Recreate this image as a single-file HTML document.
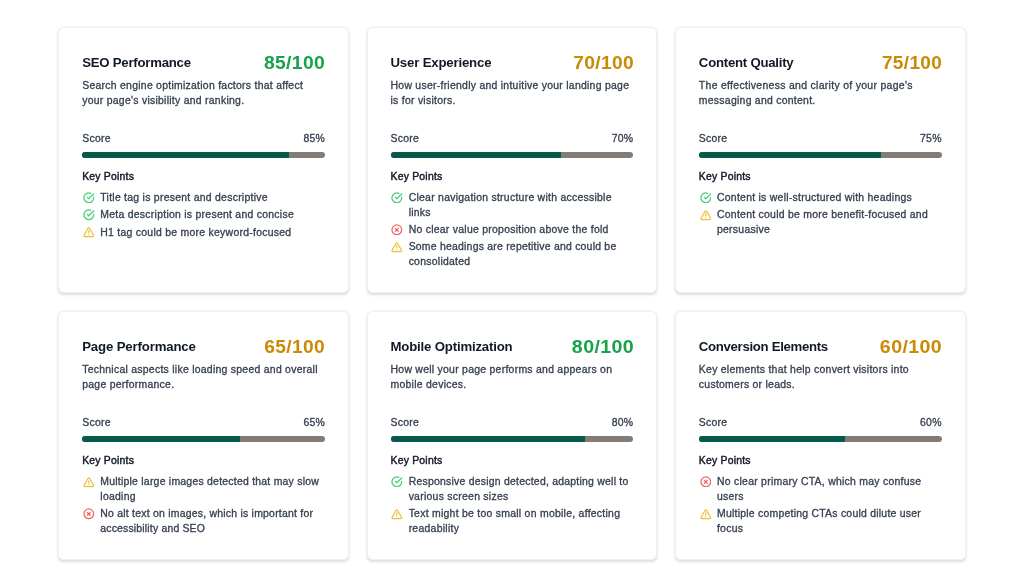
<!DOCTYPE html>
<html lang="en">
<head>
<meta charset="utf-8">
<title>Landing Page Analysis</title>
<style>
*{box-sizing:border-box;margin:0;padding:0}
html,body{width:1024px;height:576px;overflow:hidden;background:#fff}
body{font-family:"Liberation Sans",Arial,sans-serif;color:#374151;font-size:10.45px;line-height:14.55px;letter-spacing:.265px;white-space:nowrap;-webkit-text-stroke:.32px currentColor}
.grid{position:absolute;left:58.2px;top:26.5px;display:grid;grid-template-columns:290.9px 290.9px 290.9px;grid-template-rows:266.8px 249.4px;column-gap:17.45px;row-gap:17.45px}
.card{background:#fff;border:1px solid #f0f1f4;border-radius:5.8px;box-shadow:0 0 0 .7px rgba(229,231,235,.4),0 2.3px 3.4px -.73px rgba(0,0,0,.1),0 1.2px 2.4px -1.2px rgba(0,0,0,.09);padding:23px 23px 0 23px;overflow:hidden}
.hd{display:flex;justify-content:space-between;align-items:center;height:23.27px}
.tt{font-size:13.2px;line-height:20.36px;font-weight:700;color:#111827;letter-spacing:-.24px;position:relative;top:1px;-webkit-text-stroke:0}
.sc{font-size:18px;line-height:23.27px;font-weight:700;letter-spacing:.35px;margin-right:-.35px;position:relative;top:1px;-webkit-text-stroke:0;transform:scaleX(1.045);transform-origin:100% 50%}
.sc.g{color:#16a34a}
.sc.y{color:#ca8a04}
.ds{margin-top:5.13px;line-height:14.7px}
.lb{display:flex;justify-content:space-between;margin-top:23.67px}
.bar{margin-top:5.38px;height:5.82px;border-radius:3px;background:#837b76;overflow:hidden}
.fill{height:100%;background:#065a4b}
.kp{margin-top:10.83px;font-size:10.45px;font-weight:400;color:#111827;letter-spacing:.2px;-webkit-text-stroke:.42px currentColor;position:relative;top:1px}
.pts{list-style:none;margin-top:7.65px;margin-left:.8px}
.pts li{display:flex;align-items:flex-start;margin-top:2.65px;line-height:14.8px}
.pts li:first-child{margin-top:0}
.ic{flex:none;width:11.64px;height:11.64px;margin-top:.85px;margin-right:5.7px;fill:none;stroke-width:2.6;stroke-linecap:round;stroke-linejoin:round}
.ic{stroke-opacity:.82}
.ic.warn{transform:translateY(.5px)}
.ic.ok{stroke:#22c55e}
.ic.warn{stroke:#eab308}
.ic.bad{stroke:#ef4444}

</style>
</head>
<body>
<main class="grid">
<section class="card">
<div class="hd"><h3 class="tt">SEO Performance</h3><span class="sc g" style="transform:scaleX(1.0721)">85/100</span></div>
<p class="ds">Search engine optimization factors that affect<br>your page's visibility and ranking.</p>
<div class="lb"><span>Score</span><span>85%</span></div>
<div class="bar"><div class="fill" style="width:85%"></div></div>
<h4 class="kp">Key Points</h4>
<ul class="pts">
<li><svg class="ic ok" viewBox="0 0 24 24"><path d="M22 11.08V12a10 10 0 1 1-5.93-9.14"/><polyline points="22 4 12 14.01 9 11.01"/></svg><span>Title tag is present and descriptive</span></li>
<li><svg class="ic ok" viewBox="0 0 24 24"><path d="M22 11.08V12a10 10 0 1 1-5.93-9.14"/><polyline points="22 4 12 14.01 9 11.01"/></svg><span>Meta description is present and concise</span></li>
<li><svg class="ic warn" viewBox="0 0 24 24"><path d="m21.73 18-8-14a2 2 0 0 0-3.48 0l-8 14A2 2 0 0 0 4 21h16a2 2 0 0 0 1.73-3Z"/><path d="M12 9v4"/><path d="M12 17h.01"/></svg><span>H1 tag could be more keyword-focused</span></li>
</ul>
</section>
<section class="card">
<div class="hd"><h3 class="tt" style="letter-spacing:-0.170px">User Experience</h3><span class="sc y" style="transform:scaleX(1.0676)">70/100</span></div>
<p class="ds">How user-friendly and intuitive your landing page<br>is for visitors.</p>
<div class="lb"><span>Score</span><span>70%</span></div>
<div class="bar"><div class="fill" style="width:70%"></div></div>
<h4 class="kp">Key Points</h4>
<ul class="pts">
<li><svg class="ic ok" viewBox="0 0 24 24"><path d="M22 11.08V12a10 10 0 1 1-5.93-9.14"/><polyline points="22 4 12 14.01 9 11.01"/></svg><span>Clear navigation structure with accessible<br>links</span></li>
<li><svg class="ic bad" viewBox="0 0 24 24"><circle cx="12" cy="12" r="10"/><path d="m15 9-6 6"/><path d="m9 9 6 6"/></svg><span>No clear value proposition above the fold</span></li>
<li><svg class="ic warn" viewBox="0 0 24 24"><path d="m21.73 18-8-14a2 2 0 0 0-3.48 0l-8 14A2 2 0 0 0 4 21h16a2 2 0 0 0 1.73-3Z"/><path d="M12 9v4"/><path d="M12 17h.01"/></svg><span><span style="letter-spacing:0.228px">Some headings are repetitive and could be</span><br>consolidated</span></li>
</ul>
</section>
<section class="card">
<div class="hd"><h3 class="tt">Content Quality</h3><span class="sc y" style="transform:scaleX(1.0541)">75/100</span></div>
<p class="ds"><span style="letter-spacing:0.310px">The effectiveness and clarity of your page's</span><br>messaging and content.</p>
<div class="lb"><span>Score</span><span>75%</span></div>
<div class="bar"><div class="fill" style="width:75%"></div></div>
<h4 class="kp">Key Points</h4>
<ul class="pts">
<li><svg class="ic ok" viewBox="0 0 24 24"><path d="M22 11.08V12a10 10 0 1 1-5.93-9.14"/><polyline points="22 4 12 14.01 9 11.01"/></svg><span>Content is well-structured with headings</span></li>
<li><svg class="ic warn" viewBox="0 0 24 24"><path d="m21.73 18-8-14a2 2 0 0 0-3.48 0l-8 14A2 2 0 0 0 4 21h16a2 2 0 0 0 1.73-3Z"/><path d="M12 9v4"/><path d="M12 17h.01"/></svg><span>Content could be more benefit-focused and<br>persuasive</span></li>
</ul>
</section>
<section class="card">
<div class="hd"><h3 class="tt" style="letter-spacing:-0.140px">Page Performance</h3><span class="sc y" style="transform:scaleX(1.0667)">65/100</span></div>
<p class="ds">Technical aspects like loading speed and overall<br>page performance.</p>
<div class="lb"><span>Score</span><span>65%</span></div>
<div class="bar"><div class="fill" style="width:65%"></div></div>
<h4 class="kp">Key Points</h4>
<ul class="pts">
<li><svg class="ic warn" viewBox="0 0 24 24"><path d="m21.73 18-8-14a2 2 0 0 0-3.48 0l-8 14A2 2 0 0 0 4 21h16a2 2 0 0 0 1.73-3Z"/><path d="M12 9v4"/><path d="M12 17h.01"/></svg><span><span style="letter-spacing:0.238px">Multiple large images detected that may slow</span><br>loading</span></li>
<li><svg class="ic bad" viewBox="0 0 24 24"><circle cx="12" cy="12" r="10"/><path d="m15 9-6 6"/><path d="m9 9 6 6"/></svg><span><span style="letter-spacing:0.232px">No alt text on images, which is important for</span><br><span style="letter-spacing:0.182px">accessibility and SEO</span></span></li>
</ul>
</section>
<section class="card">
<div class="hd"><h3 class="tt" style="letter-spacing:-0.174px">Mobile Optimization</h3><span class="sc g" style="transform:scaleX(1.0901)">80/100</span></div>
<p class="ds">How well your page performs and appears on<br>mobile devices.</p>
<div class="lb"><span>Score</span><span>80%</span></div>
<div class="bar"><div class="fill" style="width:80%"></div></div>
<h4 class="kp">Key Points</h4>
<ul class="pts">
<li><svg class="ic ok" viewBox="0 0 24 24"><path d="M22 11.08V12a10 10 0 1 1-5.93-9.14"/><polyline points="22 4 12 14.01 9 11.01"/></svg><span><span style="letter-spacing:0.237px">Responsive design detected, adapting well to</span><br>various screen sizes</span></li>
<li><svg class="ic warn" viewBox="0 0 24 24"><path d="m21.73 18-8-14a2 2 0 0 0-3.48 0l-8 14A2 2 0 0 0 4 21h16a2 2 0 0 0 1.73-3Z"/><path d="M12 9v4"/><path d="M12 17h.01"/></svg><span>Text might be too small on mobile, affecting<br>readability</span></li>
</ul>
</section>
<section class="card">
<div class="hd"><h3 class="tt" style="letter-spacing:-0.306px">Conversion Elements</h3><span class="sc y" style="transform:scaleX(1.0901)">60/100</span></div>
<p class="ds">Key elements that help convert visitors into<br>customers or leads.</p>
<div class="lb"><span>Score</span><span>60%</span></div>
<div class="bar"><div class="fill" style="width:60%"></div></div>
<h4 class="kp">Key Points</h4>
<ul class="pts">
<li><svg class="ic bad" viewBox="0 0 24 24"><circle cx="12" cy="12" r="10"/><path d="m15 9-6 6"/><path d="m9 9 6 6"/></svg><span>No clear primary CTA, which may confuse<br>users</span></li>
<li><svg class="ic warn" viewBox="0 0 24 24"><path d="m21.73 18-8-14a2 2 0 0 0-3.48 0l-8 14A2 2 0 0 0 4 21h16a2 2 0 0 0 1.73-3Z"/><path d="M12 9v4"/><path d="M12 17h.01"/></svg><span><span style="letter-spacing:0.241px">Multiple competing CTAs could dilute user</span><br>focus</span></li>
</ul>
</section>
</main>
</body>
</html>
